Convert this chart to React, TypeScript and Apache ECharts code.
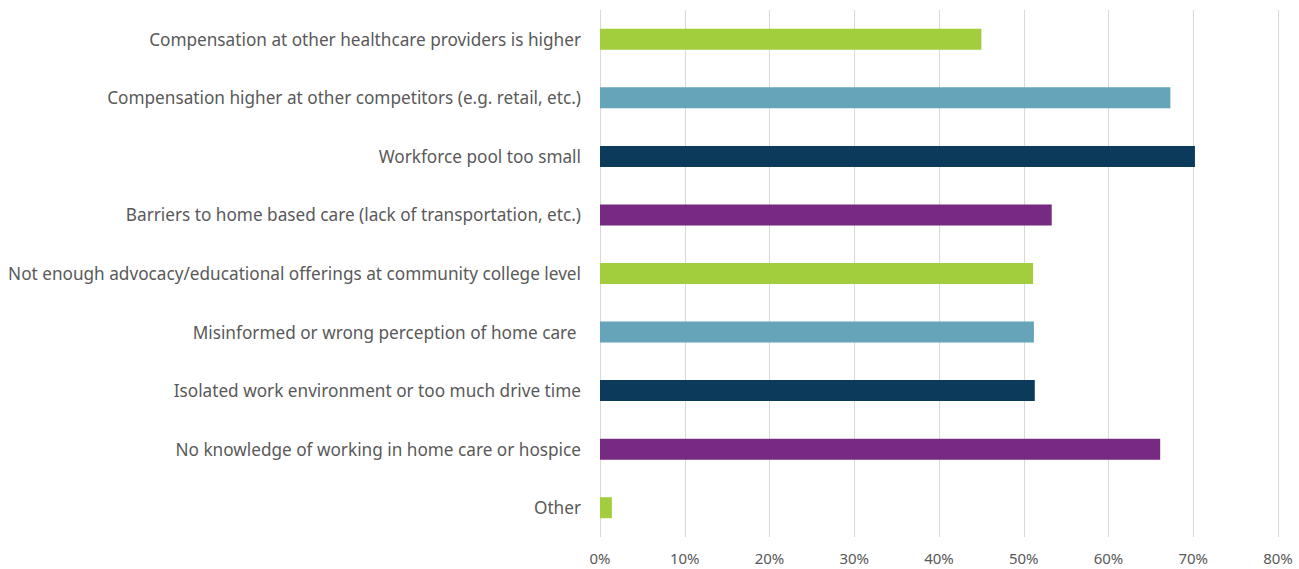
import React, { useEffect, useRef } from "react";
import * as echarts from "echarts";

const categories = [
  "Compensation at other healthcare providers is higher",
  "Compensation higher at other competitors (e.g. retail, etc.)",
  "Workforce pool too small",
  "Barriers to home based care (lack of transportation, etc.)",
  "Not enough advocacy/educational offerings at community college level",
  "Misinformed or wrong perception of home care ",
  "Isolated work environment or too much drive time",
  "No knowledge of working in home care or hospice",
  "Other",
];
const values = [45.0, 67.3, 70.2, 53.3, 51.1, 51.2, 51.3, 66.1, 1.4];
const barColors = ["#A2CD3D", "#65A4B9", "#0B3A5A", "#772A82", "#A2CD3D", "#65A4B9", "#0B3A5A", "#772A82", "#A2CD3D"];
const tickValues = [0, 10, 20, 30, 40, 50, 60, 70, 80];

export default function App() {
  const ref = useRef<HTMLDivElement>(null);
  useEffect(() => {
    if (!ref.current) return;
    const chart = echarts.init(ref.current, undefined, { renderer: "svg" });
    chart.setOption({
      animation: false,
      backgroundColor: "#ffffff",
      grid: { left: 600, right: 21, top: 10, bottom: 32, containLabel: false },
      xAxis: {
        type: "value",
        min: tickValues[0],
        max: tickValues[tickValues.length - 1],
        interval: 10,
        axisLine: { show: false },
        axisTick: { show: false },
        splitLine: { show: true, lineStyle: { color: "#D9D9D9", width: 1 } },
        axisLabel: {
          formatter: (v: number) => `${v}%`,
          color: "#595959",
          fontFamily: "Noto Sans",
          fontSize: 15,
          lineHeight: 14,
          margin: 14,
        },
      },
      yAxis: {
        type: "category",
        inverse: true,
        data: categories,
        axisLine: { show: false },
        axisTick: { show: false },
        axisLabel: {
          color: "#595959",
          fontFamily: "Noto Sans",
          fontSize: 17.2,
          margin: 19,
        },
      },
      series: [
        {
          type: "bar",
          barWidth: 21,
          data: values.map((v, i) => ({ value: v, itemStyle: { color: barColors[i] } })),
        },
      ],
    });
    return () => chart.dispose();
  }, []);
  return (
    <div
      ref={ref}
      style={{ position: "fixed", left: 0, top: 0, width: 1299, height: 569, background: "#fff" }}
    />
  );
}
